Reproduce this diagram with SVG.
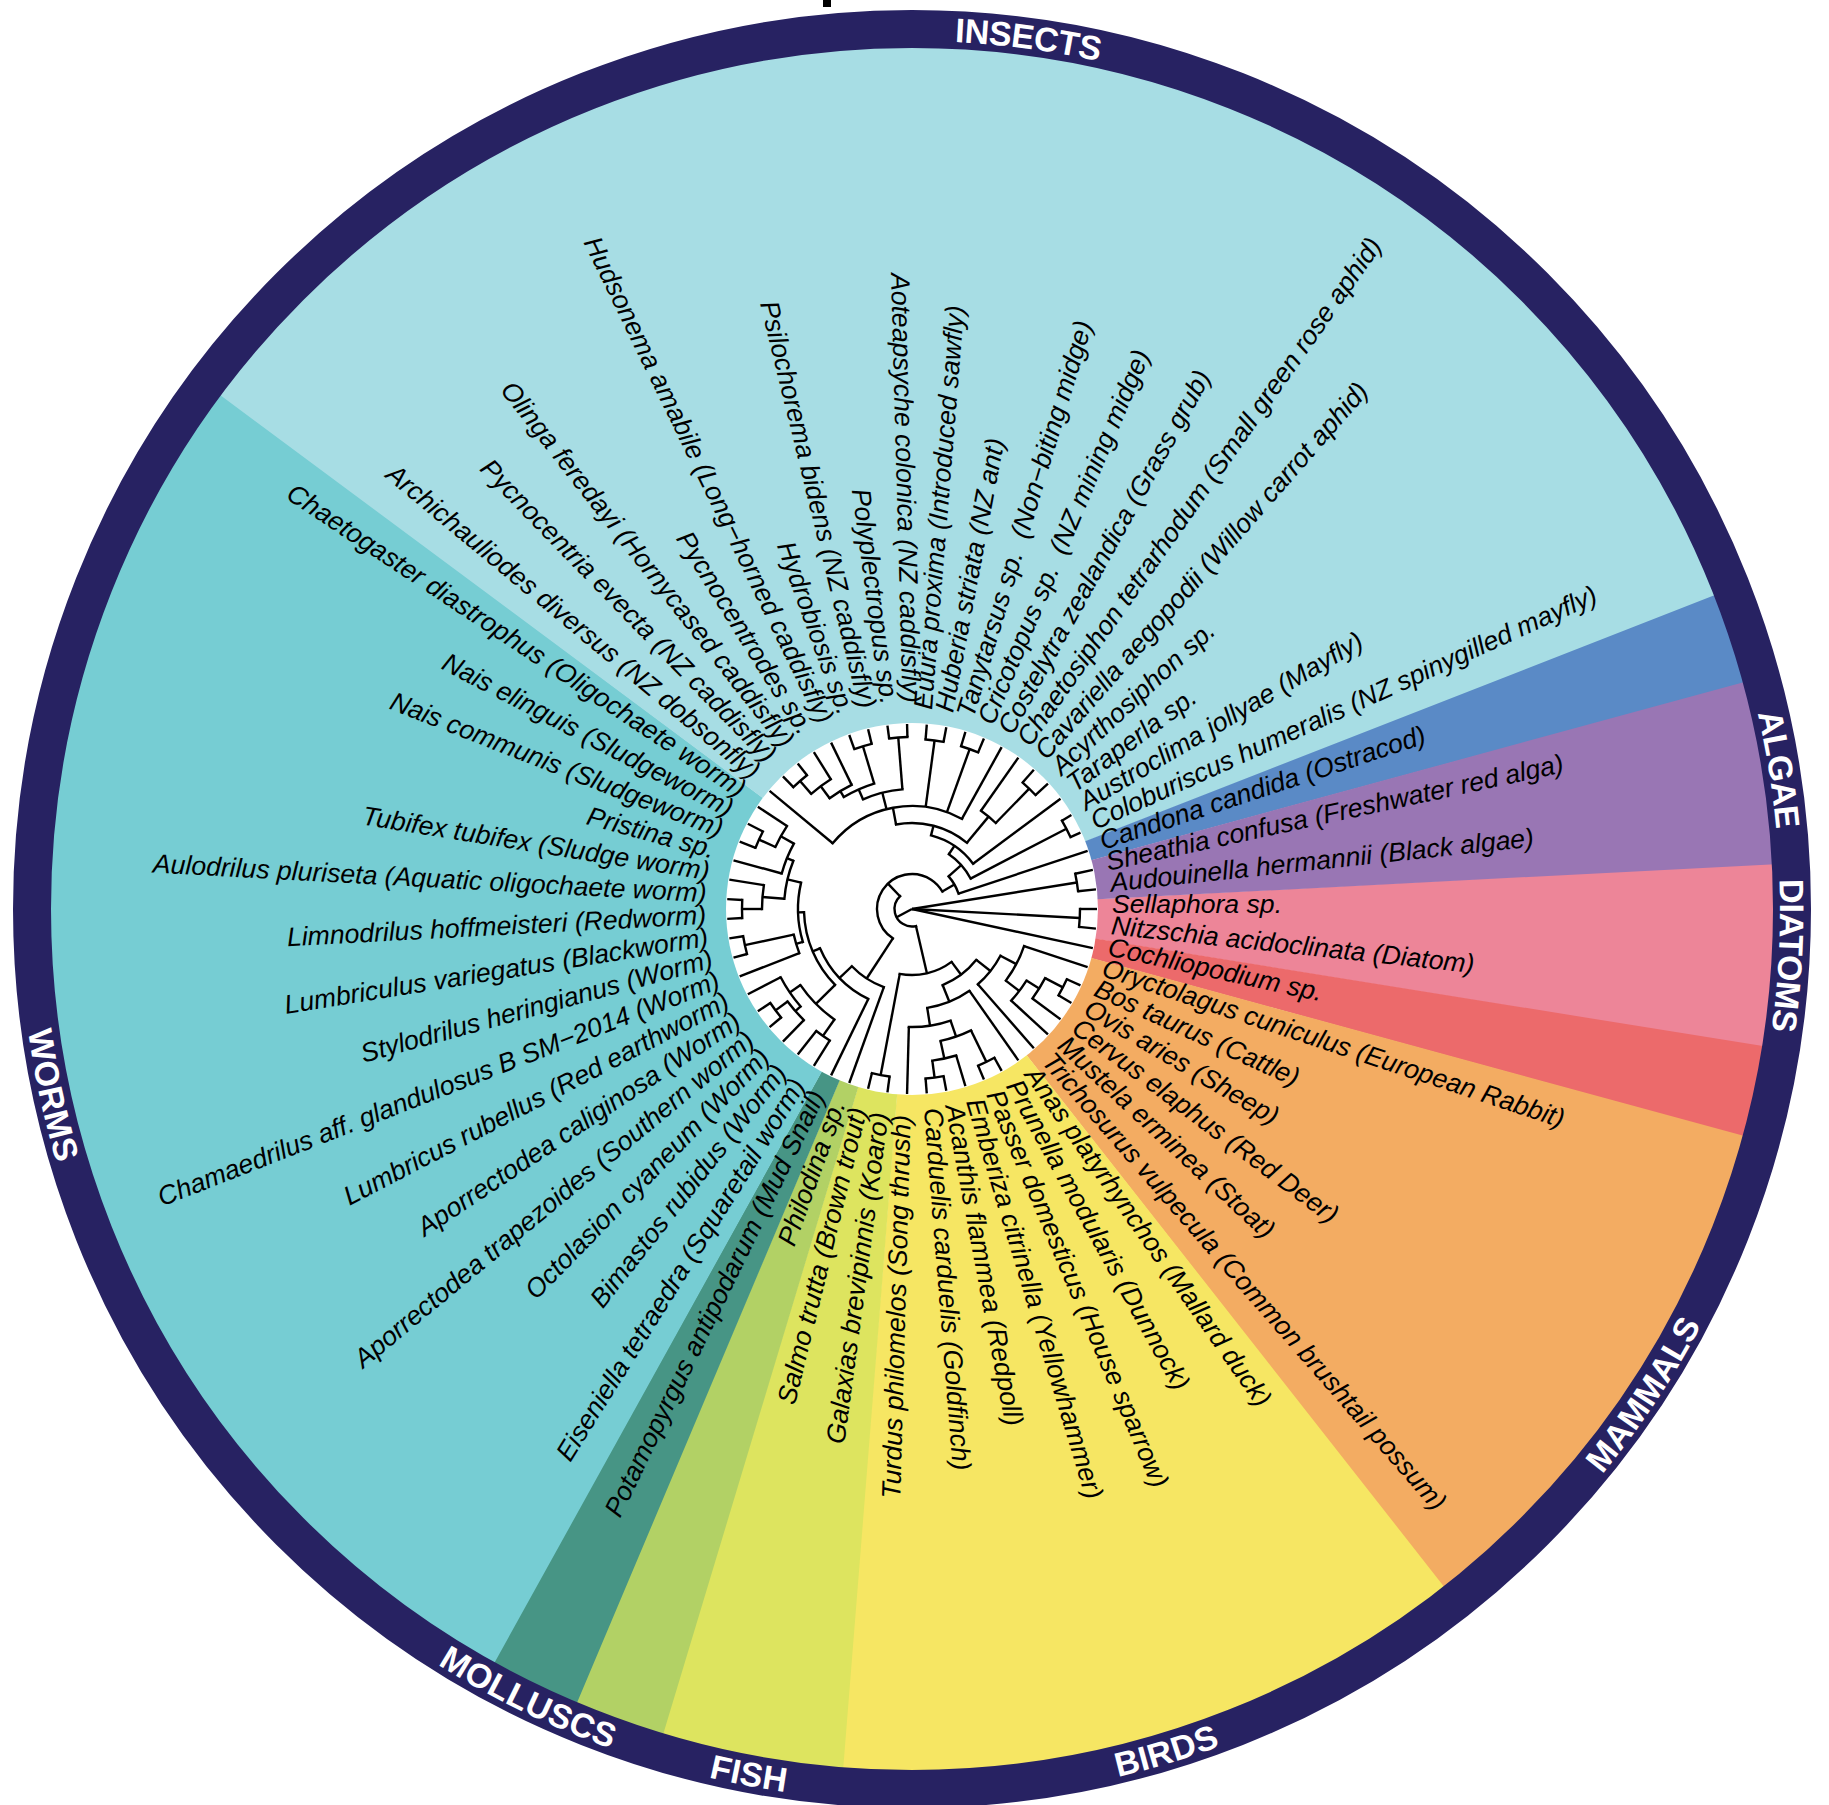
<svg xmlns="http://www.w3.org/2000/svg" width="1829" height="1805" viewBox="0 0 1829 1805">
<style>
.w{fill:none;stroke-width:860}
.lab{font-family:"Liberation Sans",Arial,sans-serif;font-style:italic;font-size:26.6px;fill:#000}
.f{text-anchor:end}
.ring{font-family:"Liberation Sans",Arial,sans-serif;font-weight:bold;font-size:34px;fill:#fff;text-anchor:middle;dominant-baseline:central}
#tree line{stroke:#000;stroke-width:2.4}
#tree circle{fill:none;stroke:#000;stroke-width:2.4;stroke-linecap:square}
</style>
<defs>
<path id="cw" d="M32,909A880,880 0 1,1 1792,909A880,880 0 1,1 32,909"/>
<path id="ccw" d="M912,29A880,880 0 1,0 912,1789A880,880 0 1,0 912,29"/>
</defs>
<rect width="1829" height="1805" fill="#fff"/>
<rect id="title-fragment" x="823" y="0" width="8" height="7" fill="#000"/>
<g id="wedges" transform="translate(912,909)">
<circle class="w" r="450" stroke="#ed8598" stroke-dasharray="96.45 3000" transform="rotate(-3.0508)"/>
<circle class="w" r="450" stroke="#ec6a6b" stroke-dasharray="48.52 3000" transform="rotate(9.1525)"/>
<circle class="w" r="450" stroke="#f3ac62" stroke-dasharray="288.14 3000" transform="rotate(15.2542)"/>
<circle class="w" r="450" stroke="#f6e663" stroke-dasharray="336.06 3000" transform="rotate(51.8644)"/>
<circle class="w" r="450" stroke="#dde45f" stroke-dasharray="96.45 3000" transform="rotate(94.5763)"/>
<circle class="w" r="450" stroke="#b2d165" stroke-dasharray="48.52 3000" transform="rotate(106.7797)"/>
<circle class="w" r="450" stroke="#479585" stroke-dasharray="48.52 3000" transform="rotate(112.8814)"/>
<circle class="w" r="450" stroke="#76cdd3" stroke-dasharray="767.36 3000" transform="rotate(118.9831)"/>
<circle class="w" r="450" stroke="#a7dde4" stroke-dasharray="959.05 3000" transform="rotate(216.6102)"/>
<circle class="w" r="450" stroke="#5a8ac6" stroke-dasharray="48.52 3000" transform="rotate(338.6441)"/>
<circle class="w" r="450" stroke="#9976b4" stroke-dasharray="96.45 3000" transform="rotate(344.7458)"/>
</g>
<circle id="ring" cx="912" cy="909" r="880" fill="none" stroke="#272262" stroke-width="38"/>
<circle id="tree-bg" cx="912" cy="909" r="186" fill="#fff"/>
<g id="tree" transform="translate(912,909)">
<circle r="167" stroke-dasharray="17.78 2000" transform="rotate(347.80)"/>
<circle r="168" stroke-dasharray="17.89 2000" transform="rotate(0)"/>
<circle r="17.5" stroke-dasharray="45.69 2000" transform="rotate(76.94)"/>
<circle r="66" stroke-dasharray="54.69 2000" transform="rotate(53.20)"/>
<circle r="169" stroke-dasharray="17.99 2000" transform="rotate(97.63)"/>
<circle r="82" stroke-dasharray="42.56 2000" transform="rotate(38.33)"/>
<circle r="100" stroke-dasharray="36.60 2000" transform="rotate(27.84)"/>
<circle r="118" stroke-dasharray="39.25 2000" transform="rotate(18.31)"/>
<circle r="135" stroke-dasharray="25.16 2000" transform="rotate(32.03)"/>
<circle r="150" stroke-dasharray="23.95 2000" transform="rotate(27.46)"/>
<circle r="170" stroke-dasharray="18.10 2000" transform="rotate(24.41)"/>
<circle r="100" stroke-dasharray="45.92 2000" transform="rotate(54.92)"/>
<circle r="118" stroke-dasharray="42.43 2000" transform="rotate(70.93)"/>
<circle r="135" stroke-dasharray="32.35 2000" transform="rotate(64.07)"/>
<circle r="170" stroke-dasharray="18.10 2000" transform="rotate(61.02)"/>
<circle r="153" stroke-dasharray="24.43 2000" transform="rotate(73.22)"/>
<circle r="170" stroke-dasharray="18.10 2000" transform="rotate(79.32)"/>
<circle r="35" stroke-dasharray="126.36 2000" transform="rotate(123.11)"/>
<circle r="83" stroke-dasharray="38.48 2000" transform="rotate(109.83)"/>
<circle r="100" stroke-dasharray="71.40 2000" transform="rotate(115.93)"/>
<circle r="108" stroke-dasharray="80.88 2000" transform="rotate(135.38)"/>
<circle r="135" stroke-dasharray="48.54 2000" transform="rotate(125.08)"/>
<circle r="148" stroke-dasharray="35.47 2000" transform="rotate(138.81)"/>
<circle r="155" stroke-dasharray="24.75 2000" transform="rotate(134.24)"/>
<circle r="170" stroke-dasharray="18.10 2000" transform="rotate(140.34)"/>
<circle r="155" stroke-dasharray="16.50 2000" transform="rotate(122.03)"/>
<circle r="114" stroke-dasharray="59.95 2000" transform="rotate(163.22)"/>
<circle r="121" stroke-dasharray="19.34 2000" transform="rotate(158.64)"/>
<circle r="171" stroke-dasharray="18.21 2000" transform="rotate(164.75)"/>
<circle r="128" stroke-dasharray="39.18 2000" transform="rotate(184.58)"/>
<circle r="150" stroke-dasharray="23.95 2000" transform="rotate(180)"/>
<circle r="170" stroke-dasharray="18.10 2000" transform="rotate(176.95)"/>
<circle r="135" stroke-dasharray="32.35 2000" transform="rotate(195.25)"/>
<circle r="150" stroke-dasharray="23.95 2000" transform="rotate(204.41)"/>
<circle r="168" stroke-dasharray="17.89 2000" transform="rotate(201.36)"/>
<circle r="49" stroke-dasharray="20.05 2000" transform="rotate(318.24)"/>
<circle r="66" stroke-dasharray="32.94 2000" transform="rotate(303.94)"/>
<circle r="174" stroke-dasharray="18.53 2000" transform="rotate(329.49)"/>
<circle r="76" stroke-dasharray="51.60 2000" transform="rotate(284.49)"/>
<circle r="86" stroke-dasharray="75.56 2000" transform="rotate(259.32)"/>
<circle r="120" stroke-dasharray="19.18 2000" transform="rotate(305.08)"/>
<circle r="168" stroke-dasharray="17.89 2000" transform="rotate(311.19)"/>
<circle r="103" stroke-dasharray="142.59 2000" transform="rotate(219.66)"/>
<circle r="170" stroke-dasharray="18.10 2000" transform="rotate(274.58)"/>
<circle r="170" stroke-dasharray="18.10 2000" transform="rotate(286.78)"/>
<circle r="120" stroke-dasharray="40.76 2000" transform="rotate(245.96)"/>
<circle r="172" stroke-dasharray="18.31 2000" transform="rotate(262.37)"/>
<circle r="131" stroke-dasharray="33.22 2000" transform="rotate(238.69)"/>
<circle r="170" stroke-dasharray="18.10 2000" transform="rotate(250.17)"/>
<circle r="138" stroke-dasharray="25.77 2000" transform="rotate(233.37)"/>
<circle r="153" stroke-dasharray="24.46 2000" transform="rotate(228.81)"/>
<circle r="170" stroke-dasharray="18.10 2000" transform="rotate(225.76)"/>
<line x1="0" x2="167" transform="rotate(350.85)"/>
<line x1="0" x2="168" transform="rotate(3.05)"/>
<line x1="0" x2="185" transform="rotate(12.20)"/>
<line x1="0" x2="17.5" transform="rotate(151.74)"/>
<line x1="167" x2="185" transform="rotate(347.80)"/>
<line x1="167" x2="185" transform="rotate(353.90)"/>
<line x1="168" x2="185" transform="rotate(0)"/>
<line x1="168" x2="185" transform="rotate(6.10)"/>
<line x1="17.5" x2="66" transform="rotate(76.94)"/>
<line x1="17.5" x2="35" transform="rotate(226.54)"/>
<line x1="66" x2="82" transform="rotate(53.20)"/>
<line x1="66" x2="169" transform="rotate(100.68)"/>
<line x1="169" x2="185" transform="rotate(97.63)"/>
<line x1="169" x2="185" transform="rotate(103.73)"/>
<line x1="82" x2="100" transform="rotate(38.33)"/>
<line x1="82" x2="100" transform="rotate(68.07)"/>
<line x1="100" x2="118" transform="rotate(27.84)"/>
<line x1="100" x2="185" transform="rotate(48.81)"/>
<line x1="118" x2="185" transform="rotate(18.31)"/>
<line x1="118" x2="135" transform="rotate(37.37)"/>
<line x1="135" x2="150" transform="rotate(32.03)"/>
<line x1="135" x2="185" transform="rotate(42.71)"/>
<line x1="150" x2="170" transform="rotate(27.46)"/>
<line x1="150" x2="185" transform="rotate(36.61)"/>
<line x1="170" x2="185" transform="rotate(24.41)"/>
<line x1="170" x2="185" transform="rotate(30.51)"/>
<line x1="100" x2="185" transform="rotate(54.92)"/>
<line x1="100" x2="118" transform="rotate(81.23)"/>
<line x1="118" x2="135" transform="rotate(70.93)"/>
<line x1="118" x2="185" transform="rotate(91.53)"/>
<line x1="135" x2="170" transform="rotate(64.07)"/>
<line x1="135" x2="153" transform="rotate(77.80)"/>
<line x1="170" x2="185" transform="rotate(61.02)"/>
<line x1="170" x2="185" transform="rotate(67.12)"/>
<line x1="153" x2="185" transform="rotate(73.22)"/>
<line x1="153" x2="170" transform="rotate(82.37)"/>
<line x1="170" x2="185" transform="rotate(79.32)"/>
<line x1="170" x2="185" transform="rotate(85.42)"/>
<line x1="35" x2="83" transform="rotate(123.11)"/>
<line x1="35" x2="49" transform="rotate(329.97)"/>
<line x1="83" x2="185" transform="rotate(109.83)"/>
<line x1="83" x2="100" transform="rotate(136.39)"/>
<line x1="100" x2="185" transform="rotate(115.93)"/>
<line x1="100" x2="108" transform="rotate(156.84)"/>
<line x1="108" x2="135" transform="rotate(135.38)"/>
<line x1="108" x2="114" transform="rotate(178.29)"/>
<line x1="135" x2="155" transform="rotate(125.08)"/>
<line x1="135" x2="148" transform="rotate(145.68)"/>
<line x1="155" x2="185" transform="rotate(122.03)"/>
<line x1="155" x2="185" transform="rotate(128.14)"/>
<line x1="148" x2="155" transform="rotate(138.81)"/>
<line x1="148" x2="185" transform="rotate(152.54)"/>
<line x1="155" x2="185" transform="rotate(134.24)"/>
<line x1="155" x2="170" transform="rotate(143.39)"/>
<line x1="170" x2="185" transform="rotate(140.34)"/>
<line x1="170" x2="185" transform="rotate(146.44)"/>
<line x1="114" x2="121" transform="rotate(163.22)"/>
<line x1="114" x2="128" transform="rotate(193.35)"/>
<line x1="121" x2="185" transform="rotate(158.64)"/>
<line x1="121" x2="171" transform="rotate(167.80)"/>
<line x1="171" x2="185" transform="rotate(164.75)"/>
<line x1="171" x2="185" transform="rotate(170.85)"/>
<line x1="128" x2="150" transform="rotate(184.58)"/>
<line x1="128" x2="135" transform="rotate(202.12)"/>
<line x1="150" x2="170" transform="rotate(180)"/>
<line x1="150" x2="185" transform="rotate(189.15)"/>
<line x1="170" x2="185" transform="rotate(176.95)"/>
<line x1="170" x2="185" transform="rotate(183.05)"/>
<line x1="135" x2="185" transform="rotate(195.25)"/>
<line x1="135" x2="150" transform="rotate(208.98)"/>
<line x1="150" x2="168" transform="rotate(204.41)"/>
<line x1="150" x2="185" transform="rotate(213.56)"/>
<line x1="168" x2="185" transform="rotate(201.36)"/>
<line x1="168" x2="185" transform="rotate(207.46)"/>
<line x1="49" x2="66" transform="rotate(318.24)"/>
<line x1="49" x2="185" transform="rotate(341.69)"/>
<line x1="66" x2="76" transform="rotate(303.94)"/>
<line x1="66" x2="174" transform="rotate(332.54)"/>
<line x1="174" x2="185" transform="rotate(329.49)"/>
<line x1="174" x2="185" transform="rotate(335.59)"/>
<line x1="76" x2="86" transform="rotate(284.49)"/>
<line x1="76" x2="185" transform="rotate(323.39)"/>
<line x1="86" x2="103" transform="rotate(259.32)"/>
<line x1="86" x2="120" transform="rotate(309.66)"/>
<line x1="120" x2="185" transform="rotate(305.08)"/>
<line x1="120" x2="168" transform="rotate(314.24)"/>
<line x1="168" x2="185" transform="rotate(311.19)"/>
<line x1="168" x2="185" transform="rotate(317.29)"/>
<line x1="103" x2="185" transform="rotate(219.66)"/>
<line x1="103" x2="120" transform="rotate(255.69)"/>
<line x1="103" x2="170" transform="rotate(277.63)"/>
<line x1="103" x2="170" transform="rotate(289.83)"/>
<line x1="103" x2="185" transform="rotate(298.98)"/>
<line x1="170" x2="185" transform="rotate(274.58)"/>
<line x1="170" x2="185" transform="rotate(280.68)"/>
<line x1="170" x2="185" transform="rotate(286.78)"/>
<line x1="170" x2="185" transform="rotate(292.88)"/>
<line x1="120" x2="131" transform="rotate(245.96)"/>
<line x1="120" x2="172" transform="rotate(265.42)"/>
<line x1="172" x2="185" transform="rotate(262.37)"/>
<line x1="172" x2="185" transform="rotate(268.47)"/>
<line x1="131" x2="138" transform="rotate(238.69)"/>
<line x1="131" x2="170" transform="rotate(253.22)"/>
<line x1="170" x2="185" transform="rotate(250.17)"/>
<line x1="170" x2="185" transform="rotate(256.27)"/>
<line x1="138" x2="153" transform="rotate(233.37)"/>
<line x1="138" x2="185" transform="rotate(244.07)"/>
<line x1="153" x2="170" transform="rotate(228.81)"/>
<line x1="153" x2="185" transform="rotate(237.97)"/>
<line x1="170" x2="185" transform="rotate(225.76)"/>
<line x1="170" x2="185" transform="rotate(231.86)"/>
</g>
<g id="labels" transform="translate(912,909)">
<text id="tip00" class="lab" x="200" dy=".15em" transform="rotate(0)">Sellaphora sp.</text>
<text id="tip01" class="lab" x="200" dy=".15em" transform="rotate(6.1017)">Nitzschia acidoclinata (Diatom)</text>
<text id="tip02" class="lab" x="200" dy=".15em" transform="rotate(12.2034)">Cochliopodium sp.</text>
<text id="tip03" class="lab" x="200" dy=".15em" transform="rotate(18.3051)">Oryctolagus cuniculus (European Rabbit)</text>
<text id="tip04" class="lab" x="200" dy=".15em" transform="rotate(24.4068)">Bos taurus (Cattle)</text>
<text id="tip05" class="lab" x="200" dy=".15em" transform="rotate(30.5085)">Ovis aries (Sheep)</text>
<text id="tip06" class="lab" x="200" dy=".15em" transform="rotate(36.6102)">Cervus elaphus (Red Deer)</text>
<text id="tip07" class="lab" x="200" dy=".15em" transform="rotate(42.7119)">Mustela erminea (Stoat)</text>
<text id="tip08" class="lab" x="200" dy=".15em" transform="rotate(48.8136)">Trichosurus vulpecula (Common brushtail possum)</text>
<text id="tip09" class="lab" x="200" dy=".15em" transform="rotate(54.9153)">Anas platyrhynchos (Mallard duck)</text>
<text id="tip10" class="lab" x="200" dy=".15em" transform="rotate(61.0169)">Prunella modularis (Dunnock)</text>
<text id="tip11" class="lab" x="200" dy=".15em" transform="rotate(67.1186)">Passer domesticus (House sparrow)</text>
<text id="tip12" class="lab" x="200" dy=".15em" transform="rotate(73.2203)">Emberiza citrinella (Yellowhammer)</text>
<text id="tip13" class="lab" x="200" dy=".15em" transform="rotate(79.3220)">Acanthis flammea (Redpoll)</text>
<text id="tip14" class="lab" x="200" dy=".15em" transform="rotate(85.4237)">Carduelis carduelis (Goldfinch)</text>
<text id="tip15" class="lab f" x="-206" dy=".15em" transform="rotate(-88.4746)">Turdus philomelos (Song thrush)</text>
<text id="tip16" class="lab f" x="-206" dy=".15em" transform="rotate(-82.3729)">Galaxias brevipinnis (Koaro)</text>
<text id="tip17" class="lab f" x="-206" dy=".15em" transform="rotate(-76.2712)">Salmo trutta (Brown trout)</text>
<text id="tip18" class="lab f" x="-206" dy=".15em" transform="rotate(-70.1695)">Philodina sp.</text>
<text id="tip19" class="lab f" x="-206" dy=".15em" transform="rotate(-64.0678)">Potamopyrgus antipodarum (Mud Snail)</text>
<text id="tip20" class="lab f" x="-206" dy=".15em" transform="rotate(-57.9661)">Eiseniella tetraedra (Squaretail worm)</text>
<text id="tip21" class="lab f" x="-206" dy=".15em" transform="rotate(-51.8644)">Bimastos rubidus (Worm)</text>
<text id="tip22" class="lab f" x="-206" dy=".15em" transform="rotate(-45.7627)">Octolasion cyaneum (Worm)</text>
<text id="tip23" class="lab f" x="-206" dy=".15em" transform="rotate(-39.6610)">Aporrectodea trapezoides (Southern worm)</text>
<text id="tip24" class="lab f" x="-206" dy=".15em" transform="rotate(-33.5593)">Aporrectodea caliginosa (Worm)</text>
<text id="tip25" class="lab f" x="-206" dy=".15em" transform="rotate(-27.4576)">Lumbricus rubellus (Red earthworm)</text>
<text id="tip26" class="lab f" x="-206" dy=".15em" transform="rotate(-21.3559)">Chamaedrilus aff. glandulosus B SM−2014 (Worm)</text>
<text id="tip27" class="lab f" x="-206" dy=".15em" transform="rotate(-15.2542)">Stylodrilus heringianus (Worm)</text>
<text id="tip28" class="lab f" x="-206" dy=".15em" transform="rotate(-9.1525)">Lumbriculus variegatus (Blackworm)</text>
<text id="tip29" class="lab f" x="-206" dy=".15em" transform="rotate(-3.0508)">Limnodrilus hoffmeisteri (Redworm)</text>
<text id="tip30" class="lab f" x="-206" dy=".15em" transform="rotate(3.0508)">Aulodrilus pluriseta (Aquatic oligochaete worm)</text>
<text id="tip31" class="lab f" x="-206" dy=".15em" transform="rotate(9.1525)">Tubifex tubifex (Sludge worm)</text>
<text id="tip32" class="lab f" x="-206" dy=".15em" transform="rotate(15.2542)">Pristina sp.</text>
<text id="tip33" class="lab f" x="-206" dy=".15em" transform="rotate(21.3559)">Nais communis (Sludgeworm)</text>
<text id="tip34" class="lab f" x="-206" dy=".15em" transform="rotate(27.4576)">Nais elinguis (Sludgeworm)</text>
<text id="tip35" class="lab f" x="-206" dy=".15em" transform="rotate(33.5593)">Chaetogaster diastrophus (Oligochaete worm)</text>
<text id="tip36" class="lab f" x="-206" dy=".15em" transform="rotate(39.6610)">Archichauliodes diversus (NZ dobsonfly)</text>
<text id="tip37" class="lab f" x="-206" dy=".15em" transform="rotate(45.7627)">Pycnocentria evecta (NZ caddisfly)</text>
<text id="tip38" class="lab f" x="-206" dy=".15em" transform="rotate(51.8644)">Olinga feredayi (Hornycased caddisfly)</text>
<text id="tip39" class="lab f" x="-206" dy=".15em" transform="rotate(57.9661)">Pycnocentrodes sp.</text>
<text id="tip40" class="lab f" x="-206" dy=".15em" transform="rotate(64.0678)">Hudsonema amabile (Long−horned caddisfly)</text>
<text id="tip41" class="lab f" x="-206" dy=".15em" transform="rotate(70.1695)">Hydrobiosis sp.</text>
<text id="tip42" class="lab f" x="-206" dy=".15em" transform="rotate(76.2712)">Psilochorema bidens (NZ caddisfly)</text>
<text id="tip43" class="lab f" x="-206" dy=".15em" transform="rotate(82.3729)">Polyplectropus sp.</text>
<text id="tip44" class="lab f" x="-206" dy=".15em" transform="rotate(88.4746)">Aoteapsyche colonica (NZ caddisfly)</text>
<text id="tip45" class="lab" x="200" dy=".15em" transform="rotate(-85.4237)">Euura proxima (Introduced sawfly)</text>
<text id="tip46" class="lab" x="200" dy=".15em" transform="rotate(-79.3220)">Huberia striata (NZ ant)</text>
<text id="tip47" class="lab" x="200" dy=".15em" transform="rotate(-73.2203)" style="white-space:pre">Tanytarsus sp.  (Non−biting midge)</text>
<text id="tip48" class="lab" x="200" dy=".15em" transform="rotate(-67.1186)" style="white-space:pre">Cricotopus sp.  (NZ mining midge)</text>
<text id="tip49" class="lab" x="200" dy=".15em" transform="rotate(-61.0169)">Costelytra zealandica (Grass grub)</text>
<text id="tip50" class="lab" x="200" dy=".15em" transform="rotate(-54.9153)">Chaetosiphon tetrarhodum (Small green rose aphid)</text>
<text id="tip51" class="lab" x="200" dy=".15em" transform="rotate(-48.8136)">Cavariella aegopodii (Willow carrot aphid)</text>
<text id="tip52" class="lab" x="200" dy=".15em" transform="rotate(-42.7119)">Acyrthosiphon sp.</text>
<text id="tip53" class="lab" x="200" dy=".15em" transform="rotate(-36.6102)">Taraperla sp.</text>
<text id="tip54" class="lab" x="200" dy=".15em" transform="rotate(-30.5085)">Austroclima jollyae (Mayfly)</text>
<text id="tip55" class="lab" x="200" dy=".15em" transform="rotate(-24.4068)">Coloburiscus humeralis (NZ spinygilled mayfly)</text>
<text id="tip56" class="lab" x="200" dy=".15em" transform="rotate(-18.3051)">Candona candida (Ostracod)</text>
<text id="tip57" class="lab" x="200" dy=".15em" transform="rotate(-12.2034)">Sheathia confusa (Freshwater red alga)</text>
<text id="tip58" class="lab" x="200" dy=".15em" transform="rotate(-6.1017)">Audouinella hermannii (Black algae)</text>
</g>
<g id="ring-labels">
<text id="grp-insects" class="ring"><textPath href="#cw" startOffset="27.119%">INSECTS</textPath></text>
<text id="grp-algae" class="ring"><textPath href="#cw" startOffset="47.457%">ALGAE</textPath></text>
<text id="grp-diatoms" class="ring"><textPath href="#cw" startOffset="50.847%">DIATOMS</textPath></text>
<text id="grp-worms" class="ring"><textPath href="#ccw" startOffset="28.390%">WORMS</textPath></text>
<text id="grp-molluscs" class="ring"><textPath href="#ccw" startOffset="42.797%">MOLLUSCS</textPath></text>
<text id="grp-fish" class="ring"><textPath href="#ccw" startOffset="47.034%">FISH</textPath></text>
<text id="grp-birds" class="ring"><textPath href="#ccw" startOffset="54.661%">BIRDS</textPath></text>
<text id="grp-mammals" class="ring"><textPath href="#ccw" startOffset="65.678%">MAMMALS</textPath></text>
</g>
</svg>
